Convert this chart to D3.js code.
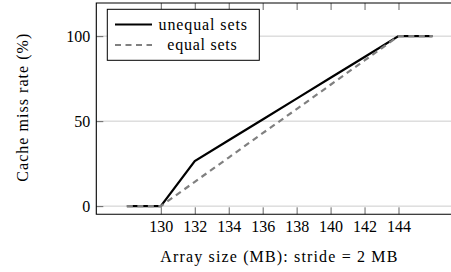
<!DOCTYPE html>
<html><head><meta charset="utf-8">
<script src="https://cdn.jsdelivr.net/npm/d3@7"></script>
<style>
body{margin:0;background:#fff;}
svg{display:block;}
</style></head>
<body>
<svg id="c" width="451" height="272"></svg>
<script>
const arraySizes = [128,130,132,134,136,138,140,142,144,146];
const unequalSets = [0,0,26.5,38.75,51,63.25,75.5,87.75,100,100];
const equalSets = [0,0,14.3,28.6,42.9,57.1,71.4,85.7,100,100];
const xTicks = [130,132,134,136,138,140,142,144];
const yTicks = [0,50,100];
const seriesNames = ["unequal sets","equal sets"];
const xLabel = "Array size (MB): stride = 2 MB";
const yLabel = "Cache miss rate (%)";

const FONT = '"Liberation Serif", serif';
const svg = d3.select("#c");
const L = 96.3, R = 463, T = 3, B = 214.3;
const x = d3.scaleLinear().domain([126.2,147.8]).range([L,R]);
const y = d3.scaleLinear().domain([-4.8,119.5]).range([B,T]);

// grid
svg.append("g").selectAll("line").data(yTicks).join("line")
  .attr("x1",L).attr("x2",R).attr("y1",d=>y(d)).attr("y2",d=>y(d))
  .attr("stroke","#cccccc").attr("stroke-width",1);

const fs = 16;
const gx = svg.append("g").attr("transform",`translate(0,${B})`)
  .call(d3.axisBottom(x).tickValues(xTicks).tickSize(-7).tickPadding(6).tickFormat(d3.format("d")));
const gxt = svg.append("g").attr("transform",`translate(0,${T})`)
  .call(d3.axisTop(x).tickValues(xTicks).tickSize(-7).tickFormat(""));
const gy = svg.append("g").attr("transform",`translate(${L},0)`)
  .call(d3.axisLeft(y).tickValues(yTicks).tickSize(-7).tickPadding(6).tickFormat(d3.format("d")));
[gx,gxt,gy].forEach(g=>{
  g.select(".domain").remove();
  g.attr("font-family",null).attr("font-size",null);
  g.selectAll(".tick line").attr("stroke","#666").attr("stroke-width",1);
  g.selectAll("text").style("font-family",FONT).style("font-size",fs+"px").attr("fill","#000");
});

// lines
const line = (vals)=>d3.line().x((d,i)=>x(arraySizes[i])).y(d=>y(d))(vals);
svg.append("path").attr("d",line(unequalSets)).attr("fill","none")
  .attr("stroke","#000").attr("stroke-width",2.2);
svg.append("path").attr("d",line(equalSets)).attr("fill","none")
  .attr("stroke","#808080").attr("stroke-width",2.2).attr("stroke-dasharray","6,4.5");

// frame
svg.append("path").attr("d",`M${R},${T}H${L}V${B}H${R}`).attr("fill","none")
  .attr("stroke","#000").attr("stroke-width",1.1);

// legend
const lg = svg.append("g");
lg.append("rect").attr("x",107.3).attr("y",9.3).attr("width",152).attr("height",51)
  .attr("fill","#fff").attr("stroke","#000").attr("stroke-width",1);
const legY = [24.5,45];
lg.append("line").attr("x1",115).attr("x2",152).attr("y1",legY[0]).attr("y2",legY[0])
  .attr("stroke","#000").attr("stroke-width",2.2);
lg.append("line").attr("x1",115).attr("x2",152).attr("y1",legY[1]).attr("y2",legY[1])
  .attr("stroke","#808080").attr("stroke-width",2.2).attr("stroke-dasharray","6,4.5");
lg.append("text").attr("x",158.5).attr("y",legY[0]).attr("dy","0.33em")
  .style("font-family",FONT).style("font-size",fs+"px")
  .attr("textLength",88.5).attr("lengthAdjust","spacing").text(seriesNames[0]);
lg.append("text").attr("x",167.3).attr("y",legY[1]).attr("dy","0.33em")
  .style("font-family",FONT).style("font-size",fs+"px")
  .attr("textLength",69.4).attr("lengthAdjust","spacing").text(seriesNames[1]);

// axis labels
svg.append("text").attr("x",160.3).attr("y",262)
  .style("font-family",FONT).style("font-size",fs+"px")
  .attr("textLength",237).attr("lengthAdjust","spacing").text(xLabel);
svg.append("text").attr("transform","translate(28,181.7) rotate(-90)")
  .style("font-family",FONT).style("font-size",fs+"px")
  .attr("textLength",148).attr("lengthAdjust","spacing").text(yLabel);
</script>
</body></html>
